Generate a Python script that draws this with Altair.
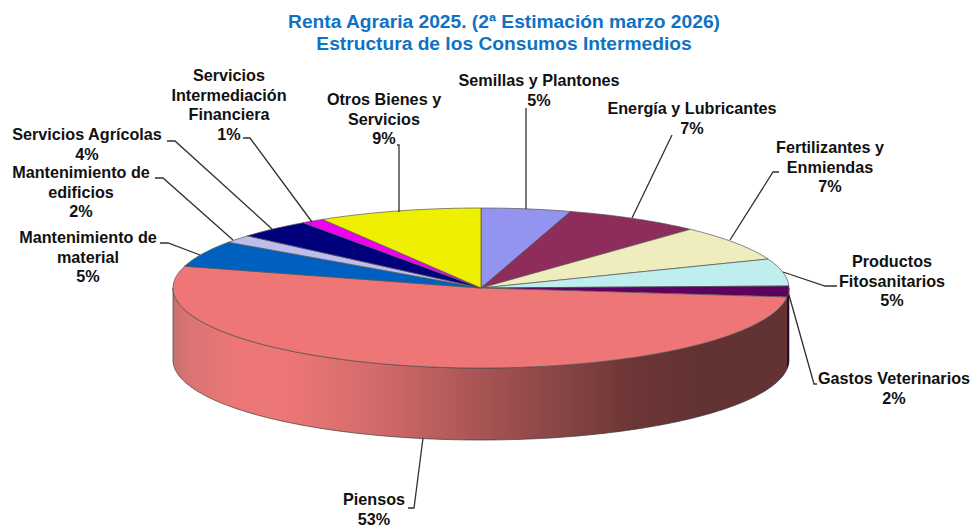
import numpy as np
import pandas as pd
import altair as alt

# ---- data (clockwise from 12 o'clock)
categories = ["Semillas y Plantones", "Energía y Lubricantes", "Fertilizantes y Enmiendas",
              "Productos Fitosanitarios", "Gastos Veterinarios", "Piensos",
              "Mantenimiento de material", "Mantenimiento de edificios", "Servicios Agrícolas",
              "Servicios Intermediación Financiera", "Otros Bienes y Servicios"]
shares = [4.7, 7.2, 7.2, 5.5, 2.2, 52.6, 5.3, 1.6, 3.9, 1.2, 8.6]
pct_labels = ["5%", "7%", "7%", "5%", "2%", "53%", "5%", "2%", "4%", "1%", "9%"]
label_lines = [
    "Semillas y Plantones\n5%",
    "Energía y Lubricantes\n7%",
    "Fertilizantes y\nEnmiendas\n7%",
    "Productos\nFitosanitarios\n5%",
    "Gastos Veterinarios\n2%",
    "Piensos\n53%",
    "Mantenimiento de\nmaterial\n5%",
    "Mantenimiento de\nedificios\n2%",
    "Servicios Agrícolas\n4%",
    "Servicios\nIntermediación\nFinanciera\n1%",
    "Otros Bienes y\nServicios\n9%",
]
colors = ["#9393F0", "#8E2C5C", "#EFEDBE", "#BFEEEE", "#5E0060", "#EE7676",
          "#0060C0", "#BDBDEE", "#00007C", "#F000F0", "#EFEF00"]

# ---- layout
W, H = 963, 518
CX, CY, RX, RY, DEPTH = 481, 288, 308, 80, 72
label_x = [539, 692, 830, 892, 894, 374, 88, 81, 87, 229, 384]
label_y = [73, 101, 140, 254, 371, 492, 230, 165, 127, 68, 92]
leaders = [
    [(526, 108), (526, 209)],
    [(672, 135), (632, 218)],
    [(779, 172), (773, 172), (730, 240)],
    [(837, 286), (825, 286), (783, 272)],
    [(817, 384), (814, 384), (789, 295)],
    [(408, 508), (414, 508), (423, 438)],
    [(160, 243), (168, 243), (200, 255)],
    [(155, 178), (163, 178), (233, 240)],
    [(167, 141), (175, 141), (272, 229)],
    [(243, 138), (250, 138), (312, 222)],
    [(397, 145), (399, 145), (399, 212)],
]

x_scale = alt.Scale(domain=[8, 8 + W], range=[0, W], nice=False, zero=False)
y_scale = alt.Scale(domain=[8, 8 + H], range=[0, H], nice=False, zero=False)
X = alt.X("x:Q", scale=x_scale, axis=None)
Y = alt.Y("y:Q", scale=y_scale, axis=None)

fr = np.array(shares) / sum(shares)
ends = np.cumsum(fr) * 2 * np.pi
starts = ends - fr * 2 * np.pi


def ell(t):
    return CX + RX * np.sin(t), CY - RY * np.cos(t)


# ---- side wall
t = np.linspace(np.pi / 2, 3 * np.pi / 2, 240)
xw, yw = ell(t)
wall = pd.DataFrame({"x": xw, "y": yw, "y_low": yw + DEPTH}).sort_values("x")
stops = [(0, "#C87070"), (0.03, "#DC7474"), (0.1, "#EC7676"), (0.18, "#EE7676"), (0.32, "#D56C6C"),
         (0.5, "#A85454"), (0.62, "#8A4646"), (0.74, "#6E3636"), (0.85, "#633232"), (1, "#633232")]
wall_layer = alt.Chart(wall).mark_area(
    orient="vertical",
    color=alt.Gradient(gradient="linear", x1=0, x2=1, y1=0, y2=0,
                       stops=[alt.GradientStop(offset=o, color=c) for o, c in stops]),
    stroke="#3A3A3A", strokeWidth=0.7,
).encode(x=X, y=Y, y2=alt.Y2("y_low:Q"))

# the small stretch of the veterinary slice that shows at the right edge
tv = np.linspace(np.pi / 2, ends[4], 20)
xv, yv = ell(tv)
vet_wall = pd.DataFrame({"x": xv, "y": yv, "y_low": yv + DEPTH}).sort_values("x")
vet_layer = alt.Chart(vet_wall).mark_area(orient="vertical", color="#2A0A2C").encode(
    x=X, y=Y, y2=alt.Y2("y_low:Q"))

# ---- top slices
slices = []
for i, c in enumerate(colors):
    a = np.linspace(starts[i], ends[i], max(4, int(fr[i] * 240)))
    ex, ey = ell(a)
    df = pd.DataFrame({"x": np.r_[CX, ex], "y": np.r_[CY, ey], "o": np.arange(len(a) + 1)})
    slices.append(
        alt.Chart(df).mark_line(interpolate="linear-closed", fill=c, stroke="#555555", strokeWidth=0.7)
        .encode(x=X, y=Y, order="o:Q")
    )

# ---- leader lines
rows = []
for i, pts in enumerate(leaders):
    for j, (px, py) in enumerate(pts):
        rows.append({"k": i, "o": j, "x": px, "y": py})
leader_layer = alt.Chart(pd.DataFrame(rows)).mark_line(color="#303030", strokeWidth=1.3).encode(
    x=X, y=Y, detail="k:N", order="o:Q")

# ---- labels
labels = pd.DataFrame({"x": label_x, "y": label_y, "t": label_lines})
label_layer = alt.Chart(labels).mark_text(
    font="Liberation Sans", fontWeight="bold", fontSize=16.2, color="#111111",
    align="center", baseline="top", lineBreak="\n", lineHeight=19.5,
).encode(x=X, y=Y, text="t:N")

chart = alt.layer(wall_layer, vet_layer, *slices, leader_layer, label_layer).properties(
    width=W, height=H, padding=0, autosize=alt.AutoSizeParams(type="none"), background="white",
    title=alt.TitleParams(
        text=["Renta Agraria 2025. (2ª Estimación marzo 2026)", "Estructura de los Consumos Intermedios"],
        font="Liberation Sans", fontWeight="bold", fontSize=19.2, color="#0F72C4",
        anchor="middle", dx=14.5, dy=46, lineHeight=22, offset=0,
    ),
).configure_view(strokeWidth=0, stroke="transparent")

chart.save("out.html", embed_options={"renderer": "svg", "actions": False})
